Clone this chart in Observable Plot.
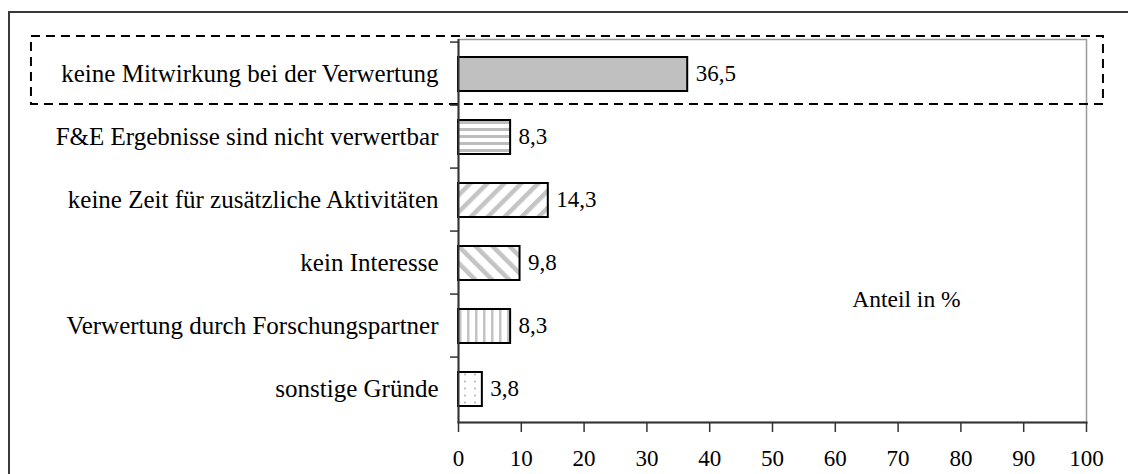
<!DOCTYPE html>
<html>
<head>
<meta charset="utf-8">
<script src="https://cdn.jsdelivr.net/npm/d3@7"></script>
<script src="https://cdn.jsdelivr.net/npm/@observablehq/plot@0.6"></script>
<style>
  html, body { margin: 0; padding: 0; background: #fff; overflow: hidden; }
  #wrap { position: relative; width: 1128px; height: 474px; overflow: hidden; font-family: "Liberation Serif", "Times New Roman", serif; }
  #frame { position: absolute; left: 8px; top: 11px; width: 1200px; height: 600px; border-left: 2px solid #3a3a3a; border-top: 2px solid #3a3a3a; }
  #title { position: absolute; left: 116px; top: -25px; font-size: 24px; line-height: 24px; white-space: nowrap; color: #000; }
  #chart { position: absolute; left: 0; top: 0; }
</style>
</head>
<body>
<div id="wrap">
  <div id="frame"></div>
  <div id="title">Gründe für fehlende Mitwirkung der Leiter von F&amp;E-Projekten an der Verwertung (n = 133)</div>
  <div id="chart"></div>
</div>
<script>
// Reasons given, top to bottom
const categories = [
  "keine Mitwirkung bei der Verwertung",
  "F&E Ergebnisse sind nicht verwertbar",
  "keine Zeit für zusätzliche Aktivitäten",
  "kein Interesse",
  "Verwertung durch Forschungspartner",
  "sonstige Gründe"
];
// Share of respondents, percent
const shares = [36.5, 8.3, 14.3, 9.8, 8.3, 3.8];
const xTicks = [0, 10, 20, 30, 40, 50, 60, 70, 80, 90, 100];
const axisTitle = "Anteil in %";
const highlighted = "keine Mitwirkung bei der Verwertung";

const rows = categories.map((category, i) => ({category, share: shares[i]}));

// Hatching for each bar, in category order
const fills = ["#c0c0c0", "url(#hstripe)", "url(#fdiag)", "url(#bdiag)", "url(#vstripe)", "url(#dots)"];

const W = 1128, H = 474;
const margin = {top: 39, right: 42, bottom: 52, left: 458};
const halfBand = (H - margin.top - margin.bottom) / categories.length / 2;
const fmt = v => v.toFixed(1).replace(".", ",");

const chart = Plot.plot({
  width: W,
  height: H,
  marginTop: margin.top,
  marginRight: margin.right,
  marginBottom: margin.bottom,
  marginLeft: margin.left,
  style: {fontFamily: "'Liberation Serif', 'Times New Roman', serif", background: "transparent", color: "#000"},
  x: {domain: [0, 100]},
  y: {domain: categories, padding: 0},
  color: {type: "identity"},
  marks: [
    Plot.frame({stroke: "#9a9a9a", strokeWidth: 1.5}),
    // dashed highlight round the first reason
    Plot.barX([highlighted], {
      y: d => d, x1: -68, x2: 102.7,
      fill: "none", stroke: "#000", strokeWidth: 2, strokeDasharray: "9,6",
      insetTop: -6, insetBottom: 1
    }),
    Plot.barX(rows, {
      x: "share", y: "category",
      fill: (d, i) => fills[i],
      stroke: "#000", strokeWidth: 2,
      insetTop: 15, insetBottom: 14
    }),
    Plot.text(rows, {
      x: "share", y: "category", text: d => fmt(d.share),
      dx: 8, textAnchor: "start", fontSize: 23, fill: "#000"
    }),
    Plot.text([axisTitle], {
      x: 62.7, y: () => categories[4], text: d => d,
      dy: -27, textAnchor: "start", fontSize: 23.5, fill: "#000"
    }),
    // category boundary ticks on the value axis
    Plot.axisY({tickSize: 8, tickFormat: () => "", dy: -halfBand, stroke: "#333", strokeWidth: 1.5, label: null}),
    Plot.axisY({tickSize: 0, tickPadding: 20, fontSize: 25, label: null}),
    Plot.axisX({ticks: xTicks, tickSize: 10, tickPadding: 17, fontSize: 23, stroke: "#333", strokeWidth: 1.5, label: null}),
    Plot.ruleX([0], {stroke: "#333", strokeWidth: 2}),
    Plot.frame({anchor: "bottom", stroke: "#333", strokeWidth: 2})
  ]
});

// Pattern definitions for the hatched bars
const defs = d3.select(chart).insert("defs", ":first-child");
const hs = defs.append("pattern").attr("id", "hstripe").attr("patternUnits", "userSpaceOnUse").attr("width", 8).attr("height", 7);
hs.append("rect").attr("width", 8).attr("height", 7).attr("fill", "#fff");
hs.append("rect").attr("y", 2).attr("width", 8).attr("height", 3).attr("fill", "#bdbdbd");

const vs = defs.append("pattern").attr("id", "vstripe").attr("patternUnits", "userSpaceOnUse").attr("width", 8).attr("height", 8);
vs.append("rect").attr("width", 8).attr("height", 8).attr("fill", "#fff");
vs.append("rect").attr("x", 3).attr("width", 2.5).attr("height", 8).attr("fill", "#c4c4c4");

for (const [id, angle] of [["fdiag", 45], ["bdiag", -45]]) {
  const p = defs.append("pattern").attr("id", id).attr("patternUnits", "userSpaceOnUse")
    .attr("width", 12).attr("height", 12).attr("patternTransform", `rotate(${angle})`);
  p.append("rect").attr("width", 12).attr("height", 12).attr("fill", "#fff");
  p.append("rect").attr("x", 4).attr("width", 4.5).attr("height", 12).attr("fill", "#c4c4c4");
}

const dp = defs.append("pattern").attr("id", "dots").attr("patternUnits", "userSpaceOnUse").attr("width", 10).attr("height", 7);
dp.append("rect").attr("width", 10).attr("height", 7).attr("fill", "#fff");
dp.append("circle").attr("cx", 5).attr("cy", 3.5).attr("r", 0.9).attr("fill", "#aaa");

document.getElementById("chart").appendChild(chart);
</script>
</body>
</html>
